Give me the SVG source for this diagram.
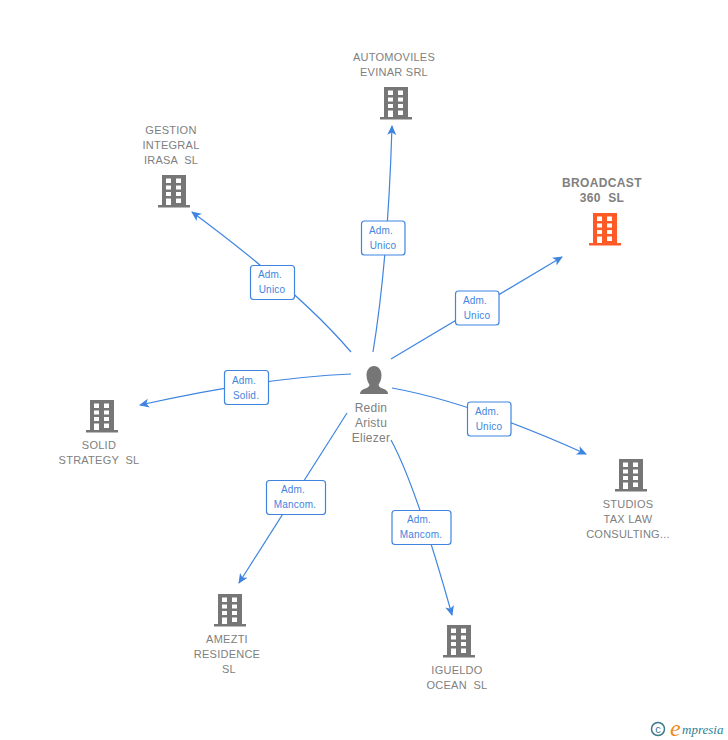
<svg xmlns="http://www.w3.org/2000/svg" width="728" height="740" viewBox="0 0 728 740">
<style>
text{font-family:"Liberation Sans",Arial,sans-serif;white-space:pre}
.n{font-size:11px;fill:#808080;text-anchor:middle;letter-spacing:.25px}
.b{font-size:12px;font-weight:bold;fill:#808080;text-anchor:middle;letter-spacing:.35px}
.p{font-size:12px;fill:#808080;text-anchor:middle;letter-spacing:.25px}
.l{font-size:10px;fill:#3f85e0;text-anchor:middle;letter-spacing:.2px}
.box{fill:#fff;stroke:#3f85e0;stroke-width:1.2}
.c{fill:none;stroke:#3f85e0;stroke-width:1.2;marker-end:url(#a)}
.g{fill:#767676}.o{fill:#ff5a26}
</style>
<defs>
<marker id="a" markerWidth="11" markerHeight="10" refX="9" refY="5" orient="auto" markerUnits="userSpaceOnUse"><path d="M0 0.5L10 5L0 9.5L2.500 5Z" fill="#3f85e0"/></marker>
<symbol id="bld" viewBox="0 0 32 34" width="32" height="34">
<path fill-rule="evenodd" d="M4 1H28V31H32V33.500H0V31H4ZM8 4.500V9H13V4.500ZM18 4.500V9H23V4.500ZM8 11.500V15.500H13V11.500ZM18 11.500V15.500H23V11.500ZM8 18V22H13V18ZM18 18V22H23V18ZM8 24.500V31H13V24.500ZM18 24.500V29H23V24.500Z"/>
</symbol>
</defs>
<g id="connectors">
<path class="c" d="M373 352Q388 260 392 126"/>
<path class="c" d="M351 352Q300 292 192 212"/>
<path class="c" d="M391 359L562 257"/>
<path class="c" d="M392 388Q470 402 586 454"/>
<path class="c" d="M391 440Q416 486 452 615"/>
<path class="c" d="M347 413L239 583"/>
<path class="c" d="M351 374Q260 378 140 405"/>
</g>
<g id="label-1"><rect class="box" x="361.500" y="221" width="43.500" height="34" rx="3"/><text class="l" x="381" y="234">Adm.</text><text class="l" x="383" y="249">Unico</text></g>
<g id="label-2"><rect class="box" x="250.500" y="265.500" width="44" height="34" rx="3"/><text class="l" x="270" y="278">Adm.</text><text class="l" x="272" y="293">Unico</text></g>
<g id="label-3"><rect class="box" x="455.500" y="291" width="43.500" height="34" rx="3"/><text class="l" x="475" y="304">Adm.</text><text class="l" x="477" y="319">Unico</text></g>
<g id="label-4"><rect class="box" x="467.500" y="402" width="43.500" height="34" rx="3"/><text class="l" x="487" y="415">Adm.</text><text class="l" x="489" y="430">Unico</text></g>
<g id="label-5"><rect class="box" x="392" y="510.500" width="59" height="34" rx="3"/><text class="l" x="419" y="523">Adm.</text><text class="l" x="421" y="538">Mancom.</text></g>
<g id="label-6"><rect class="box" x="266.500" y="480.500" width="59" height="34" rx="3"/><text class="l" x="293" y="493">Adm.</text><text class="l" x="295" y="508">Mancom.</text></g>
<g id="label-7"><rect class="box" x="224.500" y="370.500" width="44" height="34" rx="3"/><text class="l" x="244" y="384">Adm.</text><text class="l" x="246" y="399">Solid.</text></g>
<g id="node-automoviles"><use href="#bld" class="g" x="380" y="86"/><text class="n" x="394" y="61">AUTOMOVILES</text><text class="n" x="394" y="76">EVINAR SRL</text></g>
<g id="node-gestion"><use href="#bld" class="g" x="158" y="174"/><text class="n" x="171" y="134">GESTION</text><text class="n" x="171" y="149">INTEGRAL</text><text class="n" x="171" y="164">IRASA  SL</text></g>
<g id="node-broadcast"><use href="#bld" class="o" x="589" y="212"/><text class="b" x="602" y="187">BROADCAST</text><text class="b" x="602" y="202">360  SL</text></g>
<g id="node-solid"><use href="#bld" class="g" x="86" y="399"/><text class="n" x="99" y="449">SOLID</text><text class="n" x="99" y="464">STRATEGY  SL</text></g>
<g id="node-studios"><use href="#bld" class="g" x="615" y="458"/><text class="n" x="628" y="508">STUDIOS</text><text class="n" x="628" y="523">TAX LAW</text><text class="n" x="628" y="538">CONSULTING...</text></g>
<g id="node-amezti"><use href="#bld" class="g" x="214" y="593"/><text class="n" x="227" y="643">AMEZTI</text><text class="n" x="227" y="658">RESIDENCE</text><text class="n" x="229" y="673">SL</text></g>
<g id="node-igueldo"><use href="#bld" class="g" x="443" y="624"/><text class="n" x="457" y="674">IGUELDO</text><text class="n" x="457" y="689">OCEAN  SL</text></g>
<g id="node-person">
<path class="g" d="M374 366C378.500 366 381.500 370 381.500 375C381.500 380 379.500 383 378.500 385C379 387 381 388 384 389C387 390 388 392 388 394H360C360 392 361 390 364 389C367 388 369 387 369.500 385C368.500 383 366.500 380 366.500 375C366.500 370 369.500 366 374 366Z"/>
<text class="p" x="371" y="412">Redin</text><text class="p" x="371" y="427">Aristu</text><text class="p" x="371" y="442">Eliezer</text>
</g>
<g id="logo">
<circle cx="658" cy="729" r="6.500" fill="none" stroke="#3c7a8c" stroke-width="1.500"/>
<text x="658" y="733" font-size="11" fill="#3c7a8c" text-anchor="middle">c</text>
<text x="670" y="736" font-size="24" font-style="italic" fill="#f08a1d" style="font-family:'Liberation Serif',serif">e</text>
<text x="682" y="734" font-size="13" font-style="italic" fill="#2f7f96" style="font-family:'Liberation Serif',serif">mpresia</text>
</g>
</svg>
